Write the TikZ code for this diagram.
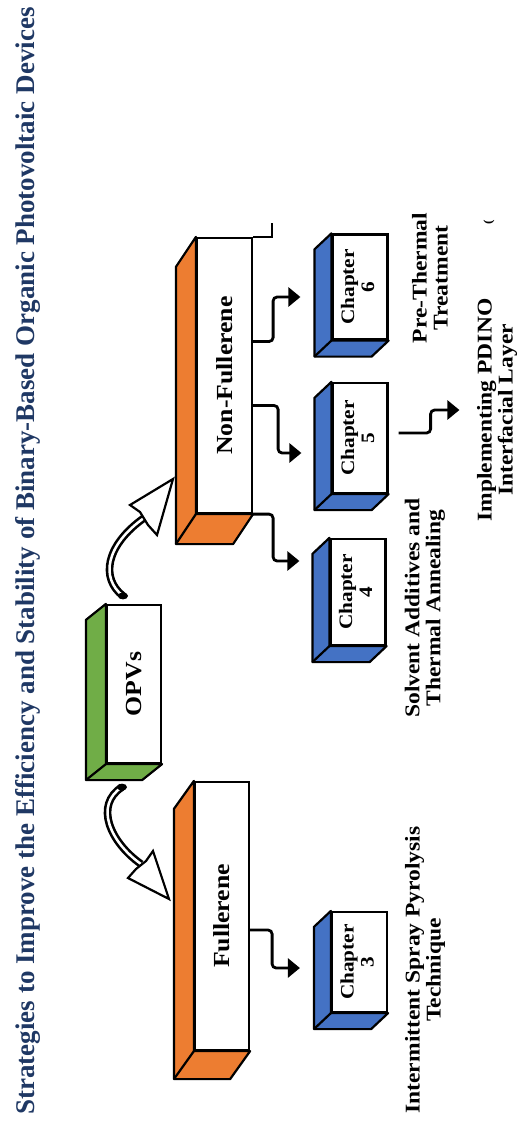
\documentclass[tikz,border=0pt]{standalone}
\usepackage{fontspec}
\setmainfont[FakeStretch=1.12]{Liberation Serif}
\newfontfamily\titlefont{Liberation Serif}
\usetikzlibrary{calc,arrows.meta}

\definecolor{fulorange}{HTML}{ED7D31}
\definecolor{opvgreen}{HTML}{70AD47}
\definecolor{chapblue}{HTML}{4472C4}
\definecolor{titlenavy}{HTML}{1F3864}

\tikzset{
    face/.style={draw, fill=white, line width=2.2pt, inner sep=0pt,
        font=\bfseries\fontsize{23}{24}\selectfont},
    chapface/.style={face, minimum width=55pt,
        font=\bfseries\fontsize{19}{20}\selectfont},
    notetext/.style={rotate=90, align=center,
        font=\bfseries\fontsize{21}{21}\selectfont},
    elbow/.style={line width=2.8pt, rounded corners=4pt,
        -{Triangle[length=12pt,width=19pt]}},
    hollow/.style={draw=black, line width=2.6pt, double=white, double distance=2.5pt},
}

% side of a block: node, colour, depth x, depth y
\newcommand{\bevel}[4]{
    \filldraw[fill=#2, line width=2.2pt, line join=round]
        (#1.north west) -- ++(-#3,#4) |- ($(#1.south east)+(-#3,#4)$)
        -- (#1.south east) -- (#1.south west) -- cycle;
    \draw[line width=2.2pt] (#1.south west) -- ++(-#3,#4);
}
% chapter block: name, number, position, height
\newcommand{\chapbox}[4]{
    \node[chapface, minimum height=#4] (#1) at #3
        {\rotatebox{90}{\begin{tabular}{@{}c@{}}Chapter\\#2\end{tabular}}};
    \bevel{#1}{chapblue}{17}{16}
}

\begin{document}
\begin{tikzpicture}[x=1pt,y=-1pt]
    \useasboundingbox (0,0) rectangle (518,1129);

    % titre
    \node[rotate=90, text=titlenavy, font=\titlefont\bfseries\fontsize{27}{27}\selectfont] (title)
        at (28,561) {Strategies to Improve the Efficiency and Stability of Binary-Based Organic Photovoltaic Devices};

    % blocs principaux
    \node[face, minimum width=54pt, minimum height=158pt] (opv) at (134,684) {\rotatebox{90}{OPVs}};
    \bevel{opv}{opvgreen}{20}{16}
    \node[face, minimum width=54pt, minimum height=268pt] (ful) at (222,916) {\rotatebox{90}{Fullerene}};
    \bevel{ful}{fulorange}{20}{28}
    \node[face, minimum width=55pt, minimum height=275pt] (nful) at (224.5,375.5) {\rotatebox{90}{Non-Fullerene}};
    \bevel{nful}{fulorange}{20}{30}

    % chapitres
    \chapbox{ch3}{3}{(359.5,962)}{100pt}
    \chapbox{ch4}{4}{(358,592)}{106pt}
    \chapbox{ch5}{5}{(360,438)}{110pt}
    \chapbox{ch6}{6}{(360,287)}{105pt}

    % textes
    \node[notetext] (lab3) at (425,970) {Intermittent Spray Pyrolysis\\Technique};
    \node[notetext] (lab4) at (425,608) {Solvent Additives and\\Thermal Annealing};
    \node[notetext] (lab5) at (497,410) {Implementing PDINO\\Interfacial Layer};
    \node[notetext] (lab6) at (430,278) {Pre-Thermal\\Treatment};
    \node[rotate=90, font=\bfseries\fontsize{12}{12}\selectfont] (paren) at (489,222) {(};

    % fleches creuses
    \coordinate (t1) at ($(opv.north)+(-11,-8)$);
    \coordinate (b1) at (144,518);
    \draw[hollow] (t1) .. controls (100,578) and (106,545) .. (b1);
    \fill (t1) ellipse (5 and 3.5);
    \filldraw[fill=white, line width=2.2pt, line join=miter]
        (173,479) -- (130,505) -- (140,512) -- (148,525) -- (157,535) -- cycle;

    \coordinate (t2) at ($(opv.south)+(-12,23)$);
    \coordinate (b2) at (141,864);
    \draw[hollow] (t2) .. controls (94,805) and (110,842) .. (b2);
    \fill (t2) ellipse (5 and 3.5);
    \filldraw[fill=white, line width=2.2pt, line join=miter]
        (169,899) -- (153,851) -- (146,861) -- (136,869) -- (128,878) -- cycle;

    % liaisons
    \coordinate (cut) at (272,223);
    \draw[line width=2.2pt] (nful.north east) -| (cut);
    \draw[elbow] ([yshift=34pt]nful.east) -- ++(20,0) |- ([xshift=-31pt,yshift=-10pt]ch6.west);
    \draw[elbow] ([yshift=-30pt]nful.east) -- ++(25,0) |- ([xshift=-30pt,yshift=-15pt]ch5.west);
    \draw[elbow] (nful.south east) -- ++(20,0) |- ([xshift=-30pt,yshift=31pt]ch4.west);
    \draw[elbow] ([yshift=-14pt]ful.east) -- ++(22,0) |- ([xshift=-31pt,yshift=-6pt]ch3.west);
    \draw[elbow] ([xshift=10pt,yshift=5pt]ch5.east) -- ++(32,0) |- ($(lab5.north)+(-14,0)$);

\end{tikzpicture}
\end{document}
